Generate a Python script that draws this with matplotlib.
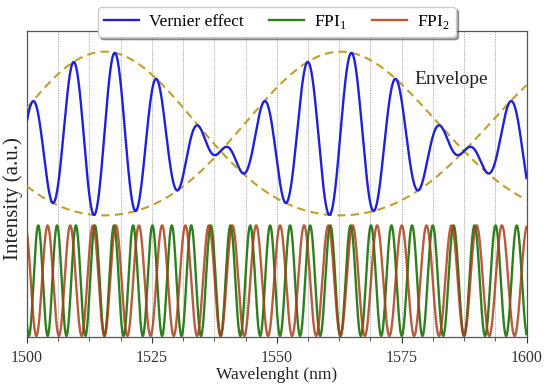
import numpy as np
import matplotlib
matplotlib.use("Agg")
import matplotlib.pyplot as plt
from matplotlib.ticker import MultipleLocator

plt.rcParams['font.family'] = ['Liberation Serif', 'DejaVu Serif']
plt.rcParams['mathtext.fontset'] = 'custom'
plt.rcParams['mathtext.rm'] = 'Liberation Serif'

# ---- values ----
x_range = [1500, 1600]                 # nm
x_tick_labels = [1500, 1525, 1550, 1575, 1600]
grid_step = 6.25                       # nm, dotted vertical lines
coincidence_nm = [1515.5, 1587.5]      # wavelengths where both FPI troughs coincide
fpi1_cycles = 18                       # FPI1 fringes between the two coincidences
fpi2_cycles = 15                       # FPI2 fringes between the two coincidences
fpi_level = [0.0, 1.0]                 # FPI min / max (a.u.)
vernier_cross = 1.673                  # level where the two envelope curves cross (a.u.)
env_top = 2.573                        # highest point of the upper envelope (a.u.)
env_bottom = 1.091                     # lowest point of the lower envelope (a.u.)
y_range = [-0.01, 2.76]
labels = ['Vernier effect', r'FPI$_\mathregular{1}$', r'FPI$_\mathregular{2}$']

# ---- curves ----
lam = np.linspace(x_range[0], x_range[1], 4000)
lc0, lc1 = coincidence_nm
span = 1.0 / lc0 - 1.0 / lc1
K1 = fpi1_cycles / span
K2 = fpi2_cycles / span
psi1 = 2 * np.pi * K1 * (1.0 / lc0 - 1.0 / lam)
psi2 = 2 * np.pi * K2 * (1.0 / lc0 - 1.0 / lam)

lo, hi = fpi_level
fpi1 = lo + (hi - lo) * (0.5 - 0.5 * np.cos(psi1))
fpi2 = lo + (hi - lo) * (0.5 - 0.5 * np.cos(psi2))
env = np.cos((psi1 - psi2) / 4)
a_lin = (env_top - env_bottom) / 2
b_sq = (env_top + env_bottom) / 2 - vernier_cross
env_1 = vernier_cross + a_lin * env + b_sq * env ** 2
env_2 = vernier_cross - a_lin * env + b_sq * env ** 2
mid = vernier_cross + b_sq * env ** 2
vernier = mid + a_lin * env * np.sin((psi1 + psi2) / 4)

fig = plt.figure(figsize=(5.5, 3.9), dpi=100)
ax = fig.add_axes([27 / 550, 1 - 337 / 390, 499.5 / 550, 306 / 390])

for g in np.arange(x_range[0] + grid_step, x_range[1], grid_step):
    ax.axvline(g, color='#b4b4b4', lw=0.7, ls=(0, (1, 0.8)), zorder=0)

ax.plot(lam, fpi1, color='#2f7f1c', lw=1.7, label=labels[1], zorder=2)
ax.plot(lam, fpi2, color='#a8401a', lw=1.7, alpha=0.85, label=labels[2], zorder=3)
ax.plot(lam, env_1, color='#bfa02c', lw=1.5, ls=(0, (4, 2.5)), zorder=3)
ax.plot(lam, env_2, color='#bfa02c', lw=1.5, ls=(0, (4, 2.5)), zorder=3)
ax.plot(lam, vernier, color='#2020d8', lw=1.7, label=labels[0], zorder=4)

ax.text(1585, 2.32, 'Envelope', fontsize=14, ha='center', va='center', color='#222222')

ax.set_xlim(x_range)
ax.set_ylim(y_range)
ax.set_xticks(x_tick_labels)
ax.xaxis.set_minor_locator(MultipleLocator(grid_step))
ax.set_yticks([])
ax.tick_params(axis='x', which='major', direction='out', length=4, width=0.8,
               labelsize=11.5, pad=5, colors='#333333')
ax.tick_params(axis='x', which='minor', direction='out', length=3, width=0.7, colors='#555555')
for s in ax.spines.values():
    s.set_color('#555555')
    s.set_linewidth(0.9)

ax.set_xlabel('Wavelenght (nm)', fontsize=12.5, labelpad=1, color='#222222')
ax.set_ylabel('Intensity (a.u.)', fontsize=15, color='#222222')
ax.yaxis.set_label_coords(-0.008, 0.454)

h, l = ax.get_legend_handles_labels()
order = [2, 0, 1]
leg = ax.legend([h[i] for i in order], [l[i] for i in order], ncol=3,
                loc='center', bbox_to_anchor=(0.5, 1.03), fontsize=12.5,
                frameon=True, fancybox=True, shadow=True, framealpha=1,
                handlelength=2.0, columnspacing=1.45, borderpad=0.35,
                handletextpad=0.6, edgecolor='#cccccc')
leg.set_zorder(10)

fig.savefig('out.png', dpi=100)
